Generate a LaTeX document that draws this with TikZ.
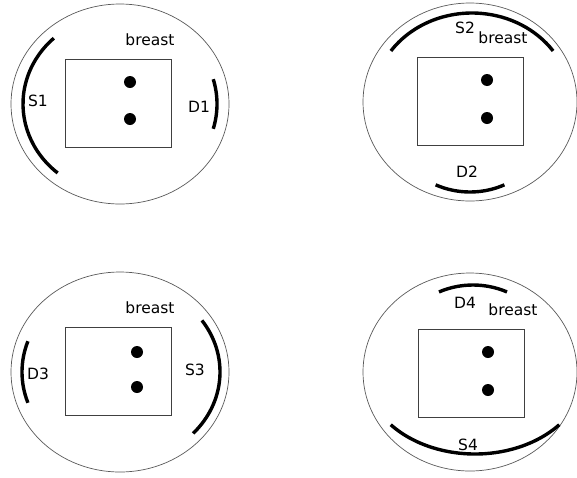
\documentclass[tikz,border=0pt]{standalone}
\usepackage{fontspec}
\setmainfont{DejaVu Sans}
\tikzset{
  breast/.style={draw=black!65,line width=0.7pt},
  field/.style={draw=black!75,line width=0.8pt},
  coil/.style={line width=3.4pt},
  lbl/.style={inner sep=0pt,font=\fontsize{15.5}{18}\selectfont}
}
\begin{document}
\begin{tikzpicture}[x=1pt,y=-1pt]
    \useasboundingbox (0,0) rectangle (577,477);
    % --- panel 1: S1 left, D1 right ---
    \draw[breast] (120,104) ellipse[x radius=109,y radius=100];
    \draw[field] (65,59) rectangle (171,147);
    \fill (130,82) circle[radius=6] (130,119) circle[radius=6];
    \draw[coil] (120,104) ++(130:97 and 90) arc[start angle=130,end angle=227,x radius=97,y radius=90];
    \draw[coil] (120,104) ++(-16:97 and 90) arc[start angle=-16,end angle=16,x radius=97,y radius=90];
    \node[lbl] (br1) at (150,40) {breast};
    \node[lbl] (s1) at (38,101) {S1};
    \node[lbl] (d1) at (199,107) {D1};
    % --- panel 2: S2 top, D2 bottom ---
    \draw[breast] (470,102) ellipse[x radius=107,y radius=99];
    \draw[field] (417,57) rectangle (523,145);
    \fill (487,80) circle[radius=6] (487,118) circle[radius=6];
    \draw[coil] (472,102) ++(215:99 and 89) arc[start angle=215,end angle=325,x radius=99,y radius=89];
    \draw[coil] (470,102) ++(67:88 and 90) arc[start angle=67,end angle=113,x radius=88,y radius=90];
    \node[lbl] (s2) at (465,28) {S2};
    \node[lbl] (br2) at (503,38) {breast};
    \node[lbl] (d2) at (467,172) {D2};
    % --- panel 3: D3 left, S3 right ---
    \draw[breast] (120,372) ellipse[x radius=109,y radius=100];
    \draw[field] (65,327) rectangle (171,415);
    \fill (137,352) circle[radius=6] (137,387) circle[radius=6];
    \draw[coil] (120,372) ++(160:98 and 90) arc[start angle=160,end angle=200,x radius=98,y radius=90];
    \draw[coil] (120,372) ++(-35:100 and 90) arc[start angle=-35,end angle=43,x radius=100,y radius=90];
    \node[lbl] (br3) at (150,308) {breast};
    \node[lbl] (d3) at (38,374) {D3};
    \node[lbl] (s3) at (195,370) {S3};
    % --- panel 4: D4 top, S4 bottom ---
    \draw[breast] (470,372) ellipse[x radius=107,y radius=99];
    \draw[field] (418,329) rectangle (524,417);
    \fill (488,352) circle[radius=6] (488,390) circle[radius=6];
    \draw[coil] (473,372) ++(247:87 and 87) arc[start angle=247,end angle=293,x radius=87,y radius=87];
    \draw[coil] (475,372) ++(40:110 and 82) arc[start angle=40,end angle=140,x radius=110,y radius=82];
    \node[lbl] (d4) at (465,303) {D4};
    \node[lbl] (br4) at (513,310) {breast};
    \node[lbl] (s4) at (468,445) {S4};
\end{tikzpicture}
\end{document}
